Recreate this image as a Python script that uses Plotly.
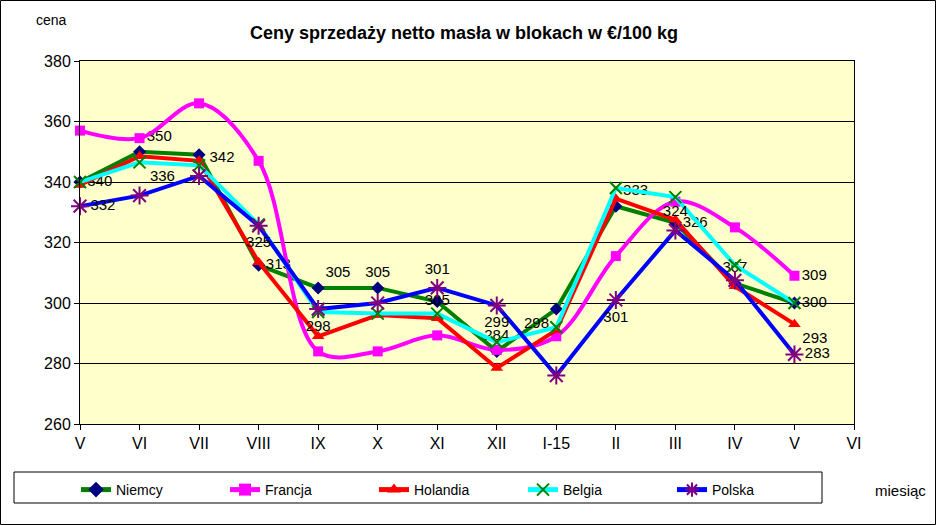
import plotly.graph_objects as go

months = ["V", "VI", "VII", "VIII", "IX", "X", "XI", "XII", "I-15", "II", "III", "IV", "V", "VI"]

niemcy = [340, 350, 349, 312.5, 305, 305, 300.5, 284, 298, 332, 326.5, 306.5, 300]
francja = [357, 354.5, 366, 347, 284, 284, 289.3, 284.5, 289, 315.5, 333.5, 325, 309]
holandia = [339, 348.5, 347, 313.5, 289, 296, 295, 278.5, 291, 334.5, 327.5, 305.5, 293]
belgia = [340, 346.5, 345.5, 326, 297, 296.5, 296.5, 287, 292, 338, 335, 312.5, 300]
polska = [332, 335.5, 342, 325.5, 298, 300, 305, 299.2, 276, 301, 324, 307.5, 283]

niemcy_lbl = ["340", "350", "", "313", "305", "305", "305", "284", "298", "333", "326", "307", "300"]
polska_lbl = ["332", "336", "342", "325", "298", "", "301", "299", "", "301", "324", "", "283"]
francja_lbl = [""] * 12 + ["309"]
holandia_lbl = [""] * 12 + ["293"]

niemcy_pos = ["middle right", "top right", "top center", "middle right", "top right", "top center",
              "middle center", "top center", "bottom left", "top right", "middle right", "top center", "middle right"]
polska_pos = ["middle right", "top right", "top right", "bottom center", "bottom center", "top center",
              "top center", "bottom center", "top center", "bottom center", "top center", "top center", "middle right"]

W, H = 936, 525
L, R, T, B = 80, 82, 61, 101
PW, PH = W - L - R, H - T - B


def px2x(p):
    return (p - L) / PW


def py2y(p):
    return (H - B - p) / PH


x = list(range(len(niemcy)))
FONT = "Liberation Sans, Arial, sans-serif"
tfont = dict(family=FONT, size=15, color="black")

fig = go.Figure()
fig.add_trace(go.Scatter(x=x, y=niemcy, name="Niemcy", mode="lines+markers+text",
                         line=dict(color="#008000", width=4),
                         marker=dict(symbol="diamond", color="#000080", size=10),
                         text=niemcy_lbl, textposition=niemcy_pos, textfont=tfont, cliponaxis=False))
fig.add_trace(go.Scatter(x=x, y=francja, name="Francja", mode="lines+markers+text",
                         line=dict(color="#FF00FF", width=4, shape="spline", smoothing=1),
                         marker=dict(symbol="square", color="#FF00FF", size=10),
                         text=francja_lbl, textposition="middle right", textfont=tfont, cliponaxis=False))
fig.add_trace(go.Scatter(x=x, y=holandia, name="Holandia", mode="lines+markers+text",
                         line=dict(color="#FF0000", width=4),
                         marker=dict(symbol="triangle-up", color="#FF0000", size=11),
                         text=holandia_lbl, textposition="bottom right", textfont=tfont, cliponaxis=False))
fig.add_trace(go.Scatter(x=x, y=belgia, name="Belgia", mode="lines+markers",
                         line=dict(color="#00FFFF", width=4),
                         marker=dict(symbol="x-thin-open", color="#008000", size=12,
                                     line=dict(color="#008000", width=2)),
                         cliponaxis=False))
fig.add_trace(go.Scatter(x=x, y=polska, name="Polska", mode="lines+markers+text",
                         line=dict(color="#0000FF", width=4),
                         marker=dict(symbol="asterisk-open", color="#800080", size=15,
                                     line=dict(color="#800080", width=2)),
                         text=polska_lbl, textposition=polska_pos, textfont=tfont, cliponaxis=False))

fig.update_layout(
    width=W, height=H,
    margin=dict(l=L, r=R, t=T, b=B, autoexpand=False),
    paper_bgcolor="white",
    plot_bgcolor="#FFFFCC",
    font=dict(family=FONT, size=14, color="black"),
    title=dict(text="<b>Ceny sprzedaży netto masła w blokach w €/100 kg</b>",
               font=dict(family=FONT, size=18, color="black"),
               x=px2x(464), xref="paper", xanchor="center",
               y=1 - 33 / H, yref="container", yanchor="middle"),
    xaxis=dict(range=[0, 13], tickmode="array", tickvals=list(range(len(months))), ticktext=months,
               showgrid=False, zeroline=False, showline=True, linecolor="black", linewidth=1,
               mirror=True, ticks="outside", ticklen=5, tickcolor="black",
               tickfont=dict(family=FONT, size=16, color="black")),
    yaxis=dict(range=[260, 380], dtick=20, showgrid=True, gridcolor="black", gridwidth=1,
               zeroline=False, showline=True, linecolor="black", linewidth=1, mirror=True,
               ticks="outside", ticklen=5, tickcolor="black",
               tickfont=dict(family=FONT, size=16, color="black")),
    showlegend=True,
    legend=dict(orientation="h", x=px2x(76), y=py2y(474), xanchor="left", yanchor="top",
                entrywidth=104, entrywidthmode="pixels", bgcolor="rgba(0,0,0,0)",
                font=dict(family=FONT, size=14, color="black"), traceorder="normal",
                itemsizing="constant"),
    shapes=[
        dict(type="rect", xref="paper", yref="paper",
             x0=px2x(0.5), x1=px2x(935.5), y0=py2y(524.5), y1=py2y(0.5),
             line=dict(color="black", width=1), fillcolor="rgba(0,0,0,0)", layer="below"),
        dict(type="rect", xref="paper", yref="paper",
             x0=px2x(14), x1=px2x(822), y0=py2y(503), y1=py2y(472),
             line=dict(color="black", width=1), fillcolor="rgba(0,0,0,0)"),
    ],
    annotations=[
        dict(text="cena", xref="paper", yref="paper", x=px2x(51), y=py2y(20),
             xanchor="center", yanchor="middle",
             showarrow=False, font=dict(family=FONT, size=14, color="black")),
        dict(text="miesiąc", xref="paper", yref="paper", x=px2x(900), y=py2y(490),
             xanchor="center", yanchor="middle",
             showarrow=False, font=dict(family=FONT, size=15, color="black")),
    ],
)

fig.write_html("out.html", config={"displayModeBar": False},
               post_script="document.body.style.margin='0px';document.body.style.overflow='hidden';")
